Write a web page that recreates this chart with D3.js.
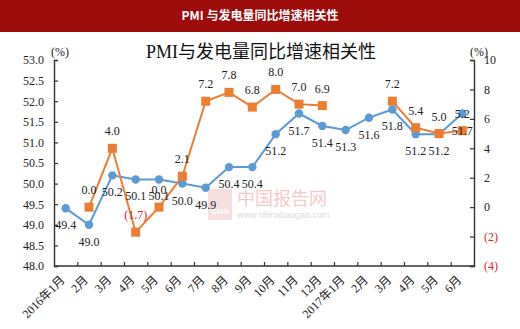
<!DOCTYPE html>
<html><head><meta charset="utf-8">
<script src="https://cdn.jsdelivr.net/npm/d3@7"></script>
<style>
html,body{margin:0;padding:0;background:#fff;}
svg{display:block;}
</style></head>
<body>
<svg id="c" width="520" height="329"></svg>
<script>
const months = ["2016年1月","2月","3月","4月","5月","6月","7月","8月","9月","10月","11月","12月","2017年1月","2月","3月","4月","5月","6月"];
const pmi = [49.4,49.0,50.2,50.1,50.1,50.0,49.9,50.4,50.4,51.2,51.7,51.4,51.3,51.6,51.8,51.2,51.2,51.7];
const power = [null,0.0,4.0,-1.7,0.0,2.1,7.2,7.8,6.8,8.0,7.0,6.9,null,null,7.2,5.4,5.0,5.2];
const leftTicks = [48.0,48.5,49.0,49.5,50.0,50.5,51.0,51.5,52.0,52.5,53.0];
const rightTicks = [-4,-2,0,2,4,6,8,10];
const headerTitle = "PMI 与发电量同比增速相关性";
const chartTitle = "PMI与发电量同比增速相关性";

const svg = d3.select("#c");
const serif = "'Liberation Serif','Times New Roman','Noto Sans CJK SC',serif";
const cjk = "'Noto Sans CJK SC','Liberation Serif',serif";
const BLUE = "#5B9BD5", ORANGE = "#ED7D31", RED = "#d9262b";

// header bar
svg.append("rect").attr("x",0).attr("y",0).attr("width",520).attr("height",32).attr("fill","#9e0b0b");
svg.append("text").attr("x",260).attr("y",14).attr("text-anchor","middle").attr("dominant-baseline","central")
  .attr("fill","#fff").attr("font-weight","bold").attr("font-size",12).attr("font-family",cjk).text(headerTitle);

// chart title
svg.append("text").attr("x",261).attr("y",52).attr("text-anchor","middle").attr("dominant-baseline","central")
  .attr("fill","#111").attr("font-size",18).attr("font-family","'Liberation Serif','Noto Sans CJK SC',serif").text(chartTitle);

const L = 54, R = 474, T = 60, B = 266;
const xb = d3.scaleBand().domain(d3.range(months.length)).range([L,R]);
const xl = d3.scaleLinear().domain([0,months.length]).range([L,R]);
const yL = d3.scaleLinear().domain([48,53]).range([B,T]);
const yR = d3.scaleLinear().domain([-4,10]).range([B,T]);
const cx = i => xb(i) + xb.bandwidth()/2;
const fmtR = v => v < 0 ? "(" + Math.abs(v) + ")" : String(v);
const fmt1 = v => v < 0 ? "(" + d3.format(".1f")(Math.abs(v)) + ")" : d3.format(".1f")(v);

// watermark
const wm = svg.append("g").attr("opacity",0.55);
wm.append("rect").attr("x",208).attr("y",189).attr("width",24).attr("height",31).attr("fill","#f2c6c6");
wm.append("text").attr("x",220).attr("y",214).attr("text-anchor","middle").attr("font-size",8).attr("font-weight","bold")
  .attr("fill","#fff").attr("font-family","'Liberation Sans',sans-serif").text("CBG");
wm.append("text").attr("x",237).attr("y",205).attr("font-size",18).attr("fill","#e9a0a0").attr("font-family",cjk).text("中国报告网");
wm.append("text").attr("x",237).attr("y",218).attr("font-size",9).attr("fill","#bbb").attr("font-family","'Liberation Sans',sans-serif").text("www.chinabaogao.com");

// axes
const axL = svg.append("g").attr("transform",`translate(${L},0)`)
  .call(d3.axisLeft(yL).tickValues(leftTicks).tickSize(-4).tickPadding(10).tickFormat(d3.format(".1f")));
const axR = svg.append("g").attr("transform",`translate(${R},0)`)
  .call(d3.axisRight(yR).tickValues(rightTicks).tickSize(-4).tickPadding(10).tickFormat(fmtR));
const axB = svg.append("g").attr("transform",`translate(0,${B})`)
  .call(d3.axisBottom(xl).tickValues(d3.range(1,months.length)).tickSize(-4).tickFormat(""));
[axL,axR,axB].forEach(g=>{
  g.select(".domain").attr("stroke","#333").attr("stroke-width",1.4);
  g.selectAll(".tick line").attr("stroke","#333").attr("stroke-width",1.2);
  g.selectAll("text").attr("font-size",12).attr("font-family",serif).attr("fill","#222");
});
axB.select(".domain").attr("d",`M${L},0H${R}`);
axR.selectAll(".tick text").attr("fill",d=>d<0?RED:"#222");

// x labels
svg.append("g").selectAll("text").data(months).join("text")
  .attr("transform",(d,i)=>`translate(${cx(i)-3},${B+12}) rotate(-45)`)
  .attr("text-anchor","end").attr("dominant-baseline","central")
  .attr("font-size",12).attr("font-family",serif).attr("fill","#222").text(d=>d);

// unit labels
svg.append("text").attr("x",60).attr("y",52).attr("text-anchor","middle").attr("dominant-baseline","central")
  .attr("font-size",12).attr("font-family",serif).attr("fill","#222").text("(%)");
svg.append("text").attr("x",479).attr("y",52).attr("text-anchor","middle").attr("dominant-baseline","central")
  .attr("font-size",12).attr("font-family",serif).attr("fill","#222").text("(%)");

// lines
const lineB = d3.line().x((d,i)=>cx(i)).y(d=>yL(d));
svg.append("path").datum(pmi).attr("d",lineB).attr("fill","none").attr("stroke",BLUE).attr("stroke-width",2);
const lineO = d3.line().defined(d=>d!==null).x((d,i)=>cx(i)).y(d=>yR(d));
svg.append("path").datum(power).attr("d",lineO).attr("fill","none").attr("stroke",ORANGE).attr("stroke-width",2);

// markers
svg.append("g").selectAll("circle").data(pmi).join("circle")
  .attr("cx",(d,i)=>cx(i)).attr("cy",d=>yL(d)).attr("r",4.2).attr("fill",BLUE);
const pw = power.map((v,i)=>({v,i})).filter(d=>d.v!==null);
svg.append("g").selectAll("rect").data(pw).join("rect")
  .attr("x",d=>cx(d.i)-4.5).attr("y",d=>yR(d.v)-4.5).attr("width",9).attr("height",9).attr("fill",ORANGE);

// data labels
svg.append("g").selectAll("text").data(pmi).join("text")
  .attr("x",(d,i)=>cx(i)).attr("y",d=>yL(d)+17).attr("text-anchor","middle").attr("dominant-baseline","central")
  .attr("font-size",12).attr("font-family",serif).attr("fill","#222").text(d=>d3.format(".1f")(d));
svg.append("g").selectAll("text").data(pw).join("text")
  .attr("x",d=>cx(d.i)).attr("y",d=>yR(d.v)-17).attr("text-anchor","middle").attr("dominant-baseline","central")
  .attr("font-size",12).attr("font-family",serif).attr("fill",d=>d.v<0?RED:"#222").text(d=>fmt1(d.v));
</script>
</body></html>
